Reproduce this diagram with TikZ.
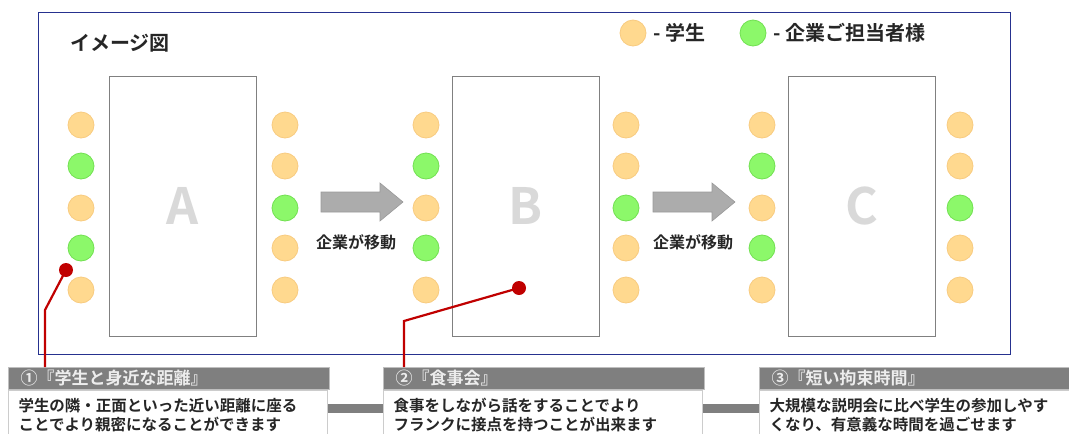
\documentclass[tikz,border=0pt]{standalone}
\usepackage{fontspec}
\setmainfont{Noto Sans CJK JP}[BoldFont=* Bold]
\usetikzlibrary{calc}
\definecolor{stud}{HTML}{FFD98F}
\definecolor{studline}{HTML}{F8CB80}
\definecolor{comp}{HTML}{8CF86A}
\definecolor{compline}{HTML}{72E052}
\definecolor{pin}{HTML}{C00000}
\definecolor{frameblue}{HTML}{26318F}
\definecolor{ink}{HTML}{262626}
\definecolor{headgray}{HTML}{7F7F7F}

\begin{document}
\begin{tikzpicture}[x=1pt,y=-1pt,
    seat/.style={circle,minimum size=26pt,inner sep=0pt,line width=0.8pt},
    student/.style={seat,fill=stud,draw=studline},
    company/.style={seat,fill=comp,draw=compline},
    desk/.style={draw=gray,line width=1pt,fill=white,minimum width=147pt,
      minimum height=260pt,inner sep=0pt,text=gray!30,
      font=\bfseries\fontsize{50}{50}\selectfont},
    keytext/.style={anchor=west,inner sep=0pt,text=ink,
      font=\bfseries\fontsize{20}{20}\selectfont},
    movetext/.style={inner sep=0pt,text=ink,font=\bfseries\fontsize{16}{16}\selectfont},
    blockarrow/.style={fill=gray!65,draw=gray!80,line width=0.6pt},
    pindot/.style={circle,fill=pin,minimum size=14pt,inner sep=0pt},
    pinline/.style={draw=pin,line width=2.2pt},
    head/.style={anchor=north west,fill=headgray,draw=gray!50,line width=1pt,
      text width=297pt,inner xsep=12pt,inner ysep=0pt,minimum height=22pt,
      align=left,text=white!93!black,font=\bfseries\fontsize{17}{17}\selectfont},
    body/.style={anchor=north west,fill=white,draw=gray!40,line width=1pt,
      text width=299pt,inner xsep=10pt,inner ysep=8pt,text depth=45pt,
      align=left,text=ink,font=\bfseries\fontsize{15.5}{19}\selectfont},
    linkbar/.style={draw=headgray,line width=9pt}]
  \useasboundingbox (0,0) rectangle (1069,434);
  \clip (0,0) rectangle (1069,434);

  \draw[frameblue,line width=1pt] (38,12) rectangle (1010,354);
  \node[keytext] (title) at (70,43) {イメージ図};

  % legend
  \node[student] (key1) at (633,33) {};
  \node[keytext] (key1t) at (653,33) {- 学生};
  \node[company] (key2) at (753,33) {};
  \node[keytext] (key2t) at (773,33) {- 企業ご担当者様};

  % desks and seats
  \node[desk] (deska) at (182.5,206) {A};
  \node[desk] (deskb) at (526,206) {B};
  \node[desk] (deskc) at (862,206) {C};
  \foreach \d/\xl/\xr in {a/81/285, b/426/626, c/762/960}
    \foreach \r/\y/\lt/\rt in {1/125/student/student, 2/166/company/student,
        3/208/student/company, 4/248/company/student, 5/290/student/student} {
      \node[\lt] (\d-l\r) at (\xl,\y) {};
      \node[\rt] (\d-r\r) at (\xr,\y) {};
    }

  % moves
  \draw[blockarrow] (321,192) -- (380,192) -- (380,183) -- (403,202)
    -- (380,221) -- (380,212) -- (321,212) -- cycle;
  \draw[blockarrow] (653,192) -- (712,192) -- (712,183) -- (735,202)
    -- (712,221) -- (712,212) -- (653,212) -- cycle;
  \node[movetext] (move1) at (356,242) {企業が移動};
  \node[movetext] (move2) at (693,242) {企業が移動};

  % notes
  \node[head] (head1) at (8,367) {①『学生と身近な距離』};
  \node[body] (body1) at (head1.south west) {学生の隣・正面といった近い距離に座る\\ことでより親密になることができます};
  \node[head] (head2) at (383,367) {②『食事会』};
  \node[body] (body2) at (head2.south west) {食事をしながら話をすることでより\\フランクに接点を持つことが出来ます};
  \node[head] (head3) at (759,367) {③『短い拘束時間』};
  \node[body] (body3) at (head3.south west) {大規模な説明会に比べ学生の参加しやす\\くなり、有意義な時間を過ごせます};

  \draw[linkbar] ($(body1.north east)+(0,18)$) -- ($(body2.north west)+(0,18)$);
  \draw[linkbar] ($(body2.north east)+(0,18)$) -- ($(body3.north west)+(0,18)$);

  \coordinate (pin1) at (66,270);
  \coordinate (bend1) at (45,310);
  \draw[pinline] (pin1) -- (bend1) -- (bend1 |- head1.north);
  \coordinate (pin2) at (519,288);
  \coordinate (bend2) at (404,321);
  \draw[pinline] (pin2) -- (bend2) -- (bend2 |- head2.north);
  \node[pindot] (dot1) at (pin1) {};
  \node[pindot] (dot2) at (pin2) {};
\end{tikzpicture}
\end{document}
